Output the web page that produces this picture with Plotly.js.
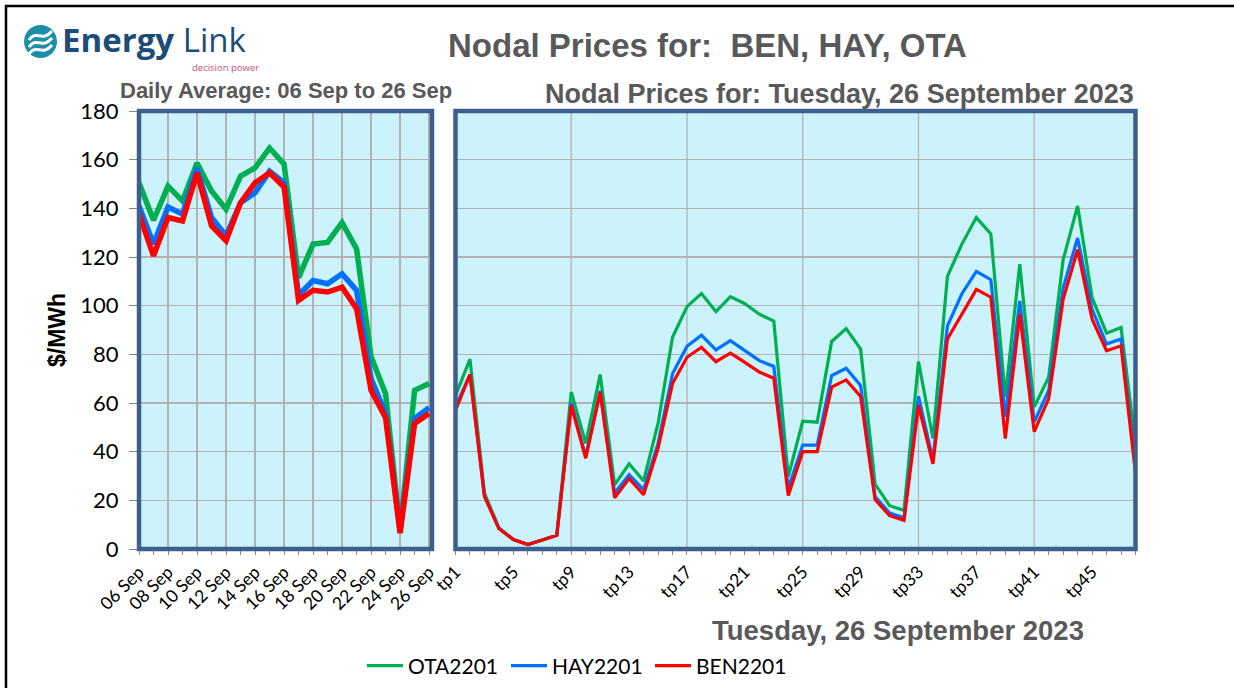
<!DOCTYPE html>
<html>
<head>
<meta charset="utf-8">
<script src="https://cdn.plot.ly/plotly-3.0.1.min.js"></script>
<style>html,body{margin:0;padding:0;background:#fff;}#chart{width:1234px;height:688px;}</style>
</head>
<body>
<div id="chart"></div>
<script>
// ---------- DATA ----------
const dayLabels = ["06 Sep","07 Sep","08 Sep","09 Sep","10 Sep","11 Sep","12 Sep","13 Sep","14 Sep","15 Sep","16 Sep","17 Sep","18 Sep","19 Sep","20 Sep","21 Sep","22 Sep","23 Sep","24 Sep","25 Sep","26 Sep"];
const dailyOTA = [150.5,135.1,149.1,143,158.6,147.1,139.6,153.2,156.6,164.8,158.2,111.5,125.3,126,134.1,123.3,79,63.8,8,65.2,68];
const dailyHAY = [141,125.3,140.5,137.6,156.6,136.2,128.7,142.3,146.4,155.2,150.5,104.3,110.3,109,113.1,106.3,70,55.7,7.9,53.6,58.1];
const dailyBEN = [137.6,120.5,136.2,134.8,154.6,132.8,126.7,142.3,150.5,154.6,148.8,102.2,106.3,105.6,107.6,98.8,65.2,54,6.5,51.6,55.7];

const tpLabels = Array.from({length:48},(_,i)=>"tp"+(i+1));
const tpOTA = [63,78,23,8.7,3.9,1.8,3.7,5.6,64.5,43.4,71.7,26.4,35,28,51.6,87,99.6,105,97.6,103.7,100.8,96.5,93.7,29.8,52.5,52.1,85.3,90.6,82.2,26.7,17.8,15.9,77,45.4,112,125.3,136.2,129.5,62.4,117.1,58.4,70.6,118.9,141,103.3,88.7,91,43];
const tpHAY = [58.4,71.7,21.9,8.5,3.9,1.8,3.7,5.6,60,38,65,23,30.5,24.4,43.4,72,83.3,87.9,81.8,85.6,81.5,77.4,75,25,42.7,42.7,71.3,74.3,67.2,21.6,14.8,12.8,62.7,36.6,91.7,104.9,114.1,110.7,54.3,101.9,52.2,65.2,107.3,127.8,98.5,84.2,86.3,34];
const tpBEN = [57,71.7,21.6,8.3,3.9,1.8,3.7,5.6,59,37.3,64.5,21,29,22.3,41.4,68,78.8,82.9,77,80.5,76.7,72.7,70.2,22,40,40,66.5,69.5,62.7,20.3,13.7,11.8,59,35,86.3,96.5,106.7,103.5,45.4,96.5,48.2,61.8,102.6,123,94.4,81.5,83.5,31.2];

const seriesNames = ["OTA2201","HAY2201","BEN2201"];
const seriesColors = ["#00b050","#0070ff","#ff0000"];
const yTicks = [0,20,40,60,80,100,120,140,160,180];

// ---------- HELPERS ----------
const W = 1234, H = 688;
const px = x => x / W;
const py = y => 1 - y / H;
const dayIdx = dayLabels.map((_, i) => i);
const tpIdx = tpLabels.map((_, i) => i + 1);

const daily = [dailyOTA, dailyHAY, dailyBEN];
const tps = [tpOTA, tpHAY, tpBEN];

const traces = [];
daily.forEach((vals, k) => {
  traces.push({
    x: dayIdx, y: vals, xaxis: "x", yaxis: "y", type: "scatter", mode: "lines",
    name: seriesNames[k], showlegend: false,
    line: {color: seriesColors[k], width: 5.5}, hoverinfo: "skip"
  });
});
tps.forEach((vals, k) => {
  traces.push({
    x: tpIdx, y: vals, xaxis: "x2", yaxis: "y2", type: "scatter", mode: "lines",
    name: seriesNames[k], showlegend: true,
    line: {color: seriesColors[k], width: 3.2}, hoverinfo: "skip"
  });
});

const tickFont = {family: "Lato, 'Open Sans', Arial, sans-serif", size: 17.5, color: "#000"};
const gridColor = "#b2b2b2";
const borderColor = "#3c5f8d";

const evenDays = dayIdx.filter(i => i % 2 === 0);
const tpLabelIdx = tpIdx.filter(i => (i - 1) % 4 === 0);
const tpGridIdx = tpIdx.filter(i => (i - 1) % 8 === 0 && i > 1);

const shapes = [
  {type: "rect", xref: "paper", yref: "paper", x0: px(6), x1: px(1245), y0: py(700), y1: py(6),
   line: {color: "#000", width: 2.5}, fillcolor: "rgba(0,0,0,0)", layer: "below"},
  {type: "rect", xref: "x domain", yref: "y domain", x0: 0, x1: 1, y0: 0, y1: 1,
   line: {color: borderColor, width: 4.5}, layer: "above"},
  {type: "rect", xref: "x2 domain", yref: "y2 domain", x0: 0, x1: 1, y0: 0, y1: 1,
   line: {color: borderColor, width: 4.5}, layer: "above"},
  {type: "circle", xref: "paper", yref: "paper", x0: px(24), x1: px(57), y0: py(58), y1: py(25),
   fillcolor: "#1c8fa6", line: {width: 0}}
];
tpGridIdx.forEach(v => shapes.push({
  type: "line", xref: "x2", yref: "y2 domain", x0: v, x1: v, y0: 0, y1: 1,
  line: {color: gridColor, width: 1.3}, layer: "below"
}));
[-7, 0, 7].forEach(d => {
  const x0 = 29, x1 = 52, yc = 42 + d;
  const p = `M ${px(x0)} ${py(yc+5)} C ${px(x0+7)} ${py(yc-6)}, ${px(x0+13)} ${py(yc+8)}, ${px(x1)} ${py(yc-4)}`;
  shapes.push({type: "path", xref: "paper", yref: "paper", path: p, line: {color: "#fff", width: 3}});
});

const grayTitle = {family: "'Liberation Sans', Arial, sans-serif", color: "#595959"};
const annotations = [
  {text: "<b>Nodal Prices for:  BEN, HAY, OTA</b>", xref: "paper", yref: "paper", x: px(708), y: py(45),
   xanchor: "center", yanchor: "middle", showarrow: false, font: Object.assign({size: 33}, grayTitle)},
  {text: "<b>Daily Average: 06 Sep to 26 Sep</b>", xref: "paper", yref: "paper", x: px(286), y: py(90),
   xanchor: "center", yanchor: "middle", showarrow: false, font: Object.assign({size: 22}, grayTitle)},
  {text: "<b>Nodal Prices for: Tuesday, 26 September 2023</b>", xref: "paper", yref: "paper", x: px(839), y: py(94),
   xanchor: "center", yanchor: "middle", showarrow: false, font: Object.assign({size: 27}, grayTitle)},
  {text: "<b>Tuesday, 26 September 2023</b>", xref: "paper", yref: "paper", x: px(898), y: py(630),
   xanchor: "center", yanchor: "middle", showarrow: false, font: Object.assign({size: 27.5}, grayTitle)},
  {text: "<b>$/MWh</b>", xref: "paper", yref: "paper", x: px(57), y: py(330), textangle: -90,
   xanchor: "center", yanchor: "middle", showarrow: false, font: {family: "'Liberation Sans', Arial, sans-serif", size: 23, color: "#000"}},
  {text: "<b>Energy</b> Link", xref: "paper", yref: "paper", x: px(60), y: py(40),
   xanchor: "left", yanchor: "middle", showarrow: false, font: {family: "'Open Sans', sans-serif", size: 33, color: "#1c4d78"}},
  {text: "decision power", xref: "paper", yref: "paper", x: px(190), y: py(67),
   xanchor: "left", yanchor: "middle", showarrow: false, font: {family: "'Open Sans', sans-serif", size: 9.5, color: "#cc4f7e"}}
];

const yBase = {
  range: [0, 180], tickvals: yTicks, showgrid: true, gridcolor: gridColor, gridwidth: 1.3,
  zeroline: false, showline: false, domain: [py(549), py(111)], fixedrange: true
};

const layout = {
  width: W, height: H, autosize: false,
  margin: {l: 0, r: 0, t: 0, b: 0, pad: 0},
  paper_bgcolor: "#ffffff", plot_bgcolor: "#ccf3fb",
  showlegend: true,
  legend: {orientation: "h", x: px(362), y: py(666), xanchor: "left", yanchor: "middle",
           font: {family: "Lato, 'Open Sans', Arial, sans-serif", size: 21, color: "#000"},
           itemwidth: 36, entrywidth: 93, bgcolor: "rgba(0,0,0,0)"},
  xaxis: {
    domain: [px(139), px(432)], range: [0, 20.2], anchor: "y",
    tickmode: "array", tickvals: evenDays, ticktext: evenDays.map(i => dayLabels[i]),
    tickangle: -45, tickfont: tickFont, ticks: "outside", ticklen: 5, tickcolor: "#888",
    showgrid: true, gridcolor: gridColor, gridwidth: 1.3, zeroline: false, showline: false,
    minor: {dtick: 1, tick0: 0, ticks: "outside", ticklen: 5, tickcolor: "#888", showgrid: false},
    fixedrange: true
  },
  yaxis: Object.assign({}, yBase, {
    anchor: "x", ticks: "outside", ticklen: 9, tickcolor: "#888", ticklabelstandoff: 6,
    tickfont: {family: "Lato, 'Open Sans', Arial, sans-serif", size: 22, color: "#000"}
  }),
  xaxis2: {
    domain: [px(455.5), px(1135.5)], range: [1, 48], anchor: "y2",
    tickmode: "array", tickvals: tpLabelIdx, ticktext: tpLabelIdx.map(i => tpLabels[i - 1]),
    tickangle: -45, tickfont: tickFont, ticks: "outside", ticklen: 5, tickcolor: "#888",
    showgrid: false, zeroline: false, showline: false,
    minor: {dtick: 1, tick0: 1, ticks: "outside", ticklen: 5, tickcolor: "#888", showgrid: false},
    fixedrange: true
  },
  yaxis2: Object.assign({}, yBase, {anchor: "x2", showticklabels: false, ticks: ""}),
  shapes: shapes,
  annotations: annotations
};

Plotly.newPlot("chart", traces, layout, {displayModeBar: false, staticPlot: true});
</script>
</body>
</html>
